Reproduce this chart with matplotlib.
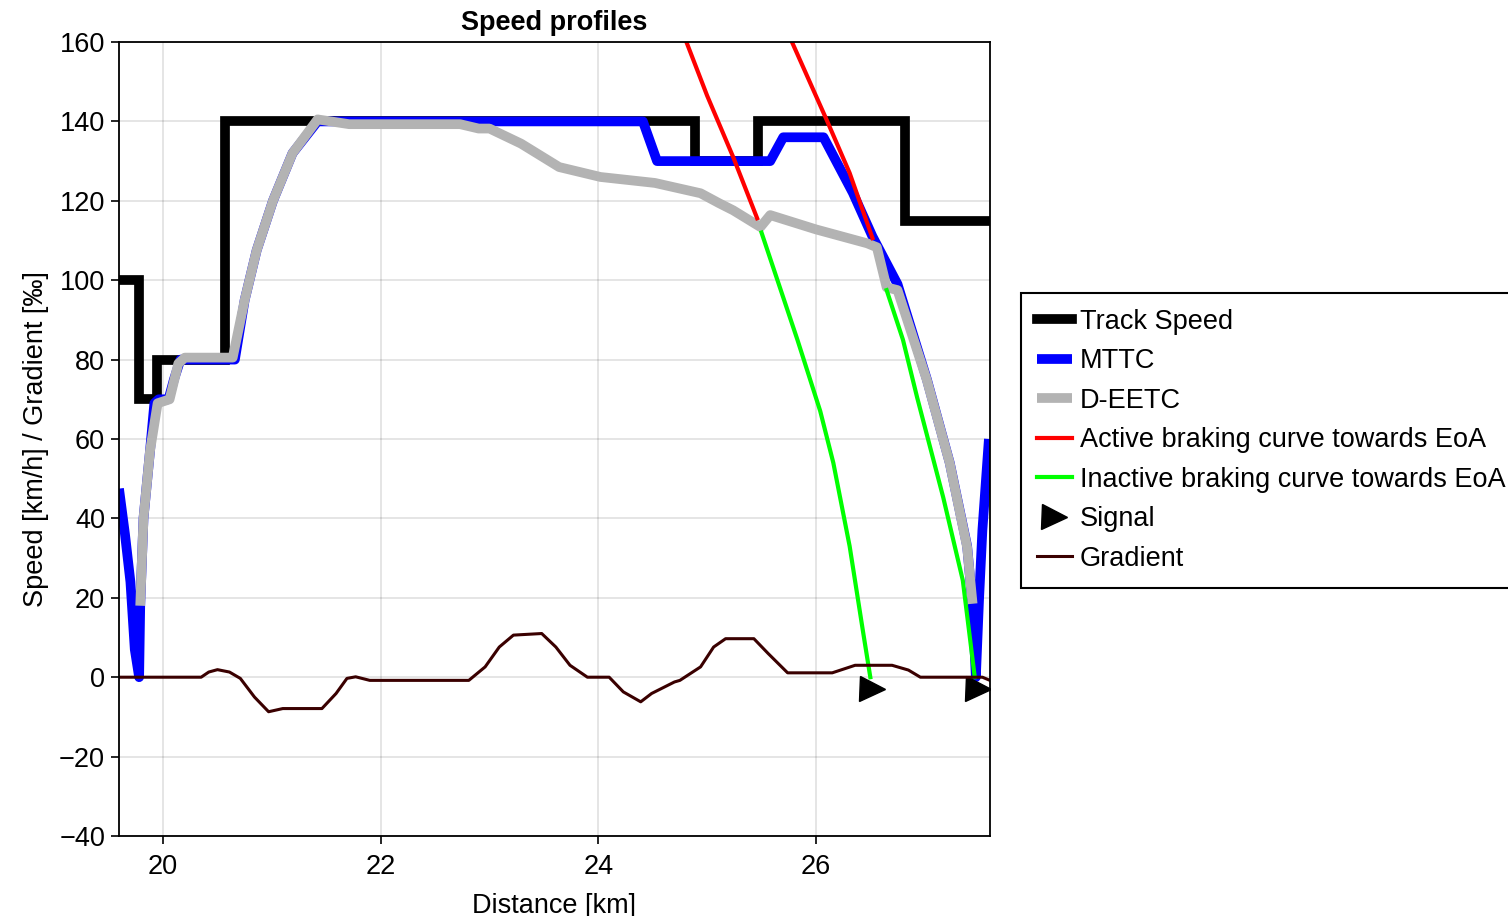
import matplotlib
matplotlib.use("Agg")
import matplotlib.pyplot as plt

plt.rcParams['font.family'] = ['Liberation Sans', 'DejaVu Sans']

# track speed limit: section edges [km] and limit per section [km/h]
track_edges = [19.595, 19.78, 19.94, 20.57, 24.89, 25.47, 26.82, 27.6]
track_vals = [100, 70, 80, 140, 130, 140, 115]

# MTTC speed profile
mttc_x = [19.595, 19.65, 19.70, 19.74, 19.78, 19.79, 19.82, 19.88, 19.92, 19.96,
          20.05, 20.10, 20.16, 20.66, 20.75, 20.86, 21.01, 21.19, 21.42, 24.41,
          24.54, 25.58, 25.70, 26.07, 26.34, 26.52, 26.75, 27.02, 27.23, 27.39,
          27.44, 27.47, 27.50, 27.53, 27.59]
mttc_v = [47.5, 36, 24, 7, 0, 18, 40, 57, 69, 70,
          70, 75, 80, 80, 95, 107.5, 120, 132, 140, 140,
          130, 130, 136, 136, 122, 111, 99, 75, 54, 33,
          18, 0, 20, 37, 60]

# D-EETC speed profile
deetc_x = [19.79, 19.82, 19.88, 19.95, 20.06, 20.14, 20.20, 20.64, 20.75, 20.86,
           21.01, 21.19, 21.42, 21.71, 22.73, 22.90, 23.00, 23.29, 23.64, 24.02,
           24.52, 24.94, 25.11, 25.24, 25.49, 25.58, 26.00, 26.47, 26.56, 26.65,
           26.75, 27.02, 27.23, 27.39, 27.44]
deetc_v = [18, 40, 57, 69, 70, 79, 80.5, 80.5, 95, 107.5,
           120, 132, 140.5, 139.3, 139.3, 138.2, 138.2, 134.4, 128.5, 126,
           124.5, 121.9, 119.4, 117.6, 113.4, 116.4, 112.8, 109.3, 108.3, 98.2,
           97.5, 74.8, 53.9, 32.7, 18.5]

# braking curves towards EoA
active1_x = [24.81, 25.00, 25.24, 25.46]
active1_v = [160, 146.5, 131, 115.6]
active2_x = [25.78, 26.10, 26.31, 26.52]
active2_v = [160, 140.3, 127, 110.6]
inactive1_x = [25.50, 25.83, 26.04, 26.16, 26.31, 26.43, 26.50]
inactive1_v = [112, 85, 67, 54, 33, 12, 0]
inactive2_x = [26.65, 26.80, 26.93, 27.17, 27.35, 27.46]
inactive2_v = [97.5, 85, 70.5, 45.3, 24.4, 0]

# signals
signal_x = [26.52, 27.49]
signal_y = [-3, -3]

# gradient [permille]
grad_x = [19.595, 20.35, 20.42, 20.50, 20.61, 20.71, 20.84, 20.97, 21.10, 21.46,
          21.59, 21.69, 21.77, 21.90, 22.81, 22.96, 23.09, 23.22, 23.48, 23.61,
          23.74, 23.90, 24.10, 24.23, 24.39, 24.49, 24.70, 24.75, 24.94, 25.06,
          25.17, 25.43, 25.56, 25.74, 26.15, 26.36, 26.70, 26.85, 26.96, 27.53,
          27.6]
grad_v = [0, 0, 1.3, 1.9, 1.3, -0.3, -5, -8.7, -7.9, -7.9,
          -4.1, -0.3, 0.1, -0.8, -0.8, 2.6, 7.6, 10.6, 11, 7.6,
          3, 0, 0, -3.7, -6.2, -4.1, -1.2, -0.8, 2.6, 7.6,
          9.7, 9.7, 6, 1.1, 1.1, 3, 3, 1.8, 0, 0,
          -0.8]

fig = plt.figure(figsize=(15.08, 9.16), dpi=100)
ax = fig.add_axes([119 / 1508, 80 / 916, 871 / 1508, 794 / 916])

ax.plot(track_edges, track_vals + [track_vals[-1]], drawstyle='steps-post',
        color='black', lw=7, solid_joinstyle='miter', label='Track Speed')
ax.plot(mttc_x, mttc_v, color='#0000ff', lw=7, solid_capstyle='butt', label='MTTC')
ax.plot(deetc_x, deetc_v, color='#b3b3b3', lw=7, solid_capstyle='butt', label='D-EETC')
ax.plot(active1_x, active1_v, color='#ff0000', lw=3, label='Active braking curve towards EoA')
ax.plot(active2_x, active2_v, color='#ff0000', lw=3)
ax.plot(inactive1_x, inactive1_v, color='#00ff00', lw=3, label='Inactive braking curve towards EoA')
ax.plot(inactive2_x, inactive2_v, color='#00ff00', lw=3)
ax.plot(signal_x, signal_y, ls='none', marker='>', ms=18, color='black', label='Signal')
ax.plot(grad_x, grad_v, color='#3a0000', lw=2.2, label='Gradient')

ax.set_xlim(19.595, 27.6)
ax.set_ylim(-40, 160)
ax.set_xticks([20, 22, 24, 26])
ax.set_yticks(range(-40, 161, 20))
ax.grid(True, color='black', alpha=0.12, lw=1.2)
ax.set_axisbelow(True)
ax.tick_params(direction='out', length=6, width=1.2, labelsize=19.5, pad=4)
ax.tick_params(axis='x', pad=7)
for s in ax.spines.values():
    s.set_linewidth(1.3)

ax.set_title('Speed profiles', fontsize=19.5, fontweight='bold', pad=9)
ax.set_xlabel('Distance [km]', fontsize=19.5, labelpad=9)
ax.set_ylabel('Speed [km/h] / Gradient [‰]', fontsize=19.5, labelpad=7)

leg = fig.legend(loc='upper left', bbox_to_anchor=(1021 / 1508, 1 - 293 / 916),
                 bbox_transform=fig.transFigure, fontsize=19.5, frameon=True,
                 fancybox=False, framealpha=1, edgecolor='black',
                 handlelength=1.3, handletextpad=0.28, labelspacing=0.5,
                 borderpad=0.58, borderaxespad=0)
leg.get_frame().set_linewidth(1.5)

fig.savefig('out.png', dpi=100)
